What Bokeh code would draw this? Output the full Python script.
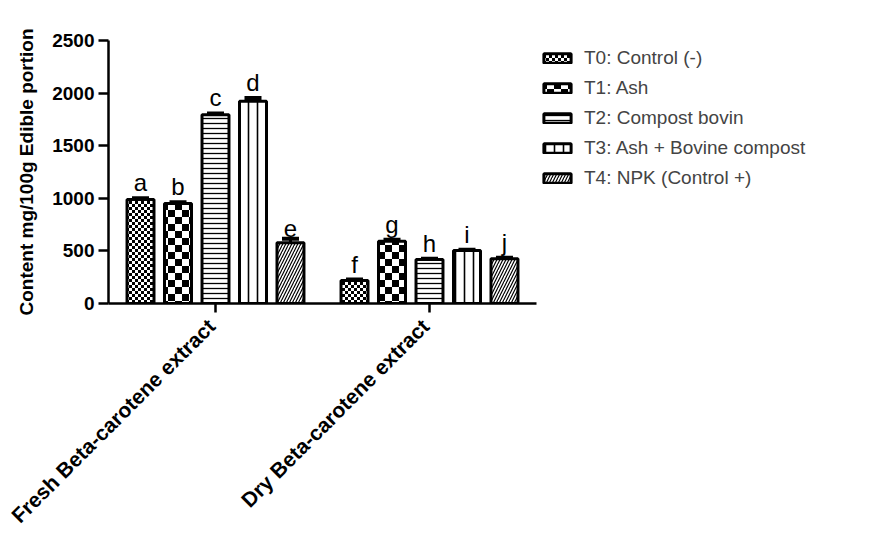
import math, zlib, struct, base64
from bokeh.plotting import figure
from bokeh.models import (ColumnDataSource, FactorRange, Range1d, Legend, LegendItem,
                          Whisker, TeeHead, ImageURLTexture, FixedTicker)
from bokeh.transform import dodge
from bokeh.core.properties import value
from bokeh.embed import file_html
from bokeh.resources import INLINE

categories = ["Fresh  Beta-carotene extract", "Dry  Beta-carotene extract"]
treatments = ["T0: Control (-)", "T1: Ash", "T2: Compost bovin",
              "T3: Ash + Bovine compost", "T4: NPK (Control +)"]
# values per treatment: [Fresh, Dry]
values = {
    "T0: Control (-)": [988, 218],
    "T1: Ash": [950, 592],
    "T2: Compost bovin": [1795, 418],
    "T3: Ash + Bovine compost": [1923, 504],
    "T4: NPK (Control +)": [577, 425],
}
errors = {
    "T0: Control (-)": [12, 10],
    "T1: Ash": [12, 14],
    "T2: Compost bovin": [12, 8],
    "T3: Ash + Bovine compost": [30, 8],
    "T4: NPK (Control +)": [38, 10],
}
letters = {
    "T0: Control (-)": ["a", "f"],
    "T1: Ash": ["b", "g"],
    "T2: Compost bovin": ["c", "h"],
    "T3: Ash + Bovine compost": ["d", "i"],
    "T4: NPK (Control +)": ["e", "j"],
}
y_ticks = [0, 500, 1000, 1500, 2000, 2500]

FONT = "Liberation Sans"


def checker_png(size, cell):
    rows = []
    for y in range(size):
        row = bytearray([0])
        for x in range(size):
            black = ((x // cell) + (y // cell)) % 2 == 0
            row += bytes([0, 0, 0, 255]) if black else bytes([255, 255, 255, 255])
        rows.append(bytes(row))
    raw = b"".join(rows)

    def chunk(t, d):
        return struct.pack(">I", len(d)) + t + d + struct.pack(">I", zlib.crc32(t + d) & 0xffffffff)

    ihdr = struct.pack(">IIBBBBB", size, size, 8, 6, 0, 0, 0)
    data = (b"\x89PNG\r\n\x1a\n" + chunk(b"IHDR", ihdr) +
            chunk(b"IDAT", zlib.compress(raw)) + chunk(b"IEND", b""))
    return "data:image/png;base64," + base64.b64encode(data).decode()


fine_checker = ImageURLTexture(url=checker_png(6, 3))
big_checker = ImageURLTexture(url=checker_png(14, 7))

p = figure(x_range=FactorRange(*categories, range_padding=0),
           y_range=Range1d(0, 2500),
           frame_width=428, frame_height=263,
           min_border_left=108, min_border_top=40, min_border_right=336, min_border_bottom=230,
           output_backend="svg", toolbar_location=None)
p.outline_line_color = None
p.xgrid.grid_line_color = None
p.ygrid.grid_line_color = None

styles = [
    dict(hatch_pattern=value("finechecker"), hatch_extra={"finechecker": fine_checker}),
    dict(hatch_pattern=value("bigchecker"), hatch_extra={"bigchecker": big_checker}),
    dict(hatch_pattern="horizontal_line", hatch_scale=5, hatch_weight=1.3),
    dict(hatch_pattern="vertical_line", hatch_scale=9, hatch_weight=1.6),
    dict(hatch_pattern="right_diagonal_line", hatch_scale=6, hatch_weight=1.2),
]

bar_w = 0.126
step = 0.1752
items = []
for i, t in enumerate(treatments):
    off = (i - 2) * step
    vals = values[t]
    errs = errors[t]
    src = ColumnDataSource(dict(cat=categories, val=vals,
                                up=[v + e for v, e in zip(vals, errs)],
                                lab=letters[t]))
    r = p.vbar(x=dodge("cat", off, range=p.x_range), top="val", width=bar_w, source=src,
               fill_color="white", line_color="black", line_width=3,
               hatch_color="black", **styles[i])
    items.append(LegendItem(label=t, renderers=[r]))
    w = Whisker(base=dodge("cat", off, range=p.x_range), lower="val", upper="up", source=src,
                line_width=3, line_color="black",
                upper_head=TeeHead(size=17, line_width=4, line_color="black"),
                lower_head=None)
    p.add_layout(w)
    p.text(x=dodge("cat", off, range=p.x_range), y="up", text="lab", source=src,
           text_align="center", text_baseline="bottom", y_offset=-2,
           text_font=value(FONT), text_font_size="24px", text_color="black")

legend = Legend(items=items, location=(4, 114), orientation="vertical",
                glyph_width=34, glyph_height=12, label_standoff=10,
                label_text_font=FONT, label_text_font_size="19px",
                label_height=20, spacing=8, padding=0, margin=0,
                border_line_color=None, background_fill_alpha=0)
p.add_layout(legend, "right")

# axes
for ax in (p.xaxis[0], p.yaxis[0]):
    ax.axis_line_width = 2.5
    ax.axis_line_color = "black"
    ax.major_tick_line_width = 2.5
    ax.major_tick_line_color = "black"
    ax.minor_tick_line_color = None
    ax.major_tick_in = 0
    ax.major_label_text_font = FONT
    ax.major_label_text_font_style = "bold"
    ax.major_label_text_color = "black"

p.yaxis.ticker = FixedTicker(ticks=y_ticks)
p.yaxis.major_tick_out = 10
p.yaxis.major_label_text_font_size = "19px"
p.yaxis.major_label_standoff = 4
p.yaxis.axis_label = "Content mg/100g Edible portion"
p.yaxis.axis_label_text_font = FONT
p.yaxis.axis_label_text_font_style = "bold"
p.yaxis.axis_label_text_font_size = "19px"
p.yaxis.axis_label_text_color = "black"
p.yaxis.axis_label_standoff = 12

p.xaxis.major_tick_out = 9
p.xaxis.major_label_text_font_size = "21px"
p.xaxis.major_label_orientation = math.pi / 4
p.xaxis.major_label_standoff = 6

open("out.html", "w").write(file_html(p, INLINE))
